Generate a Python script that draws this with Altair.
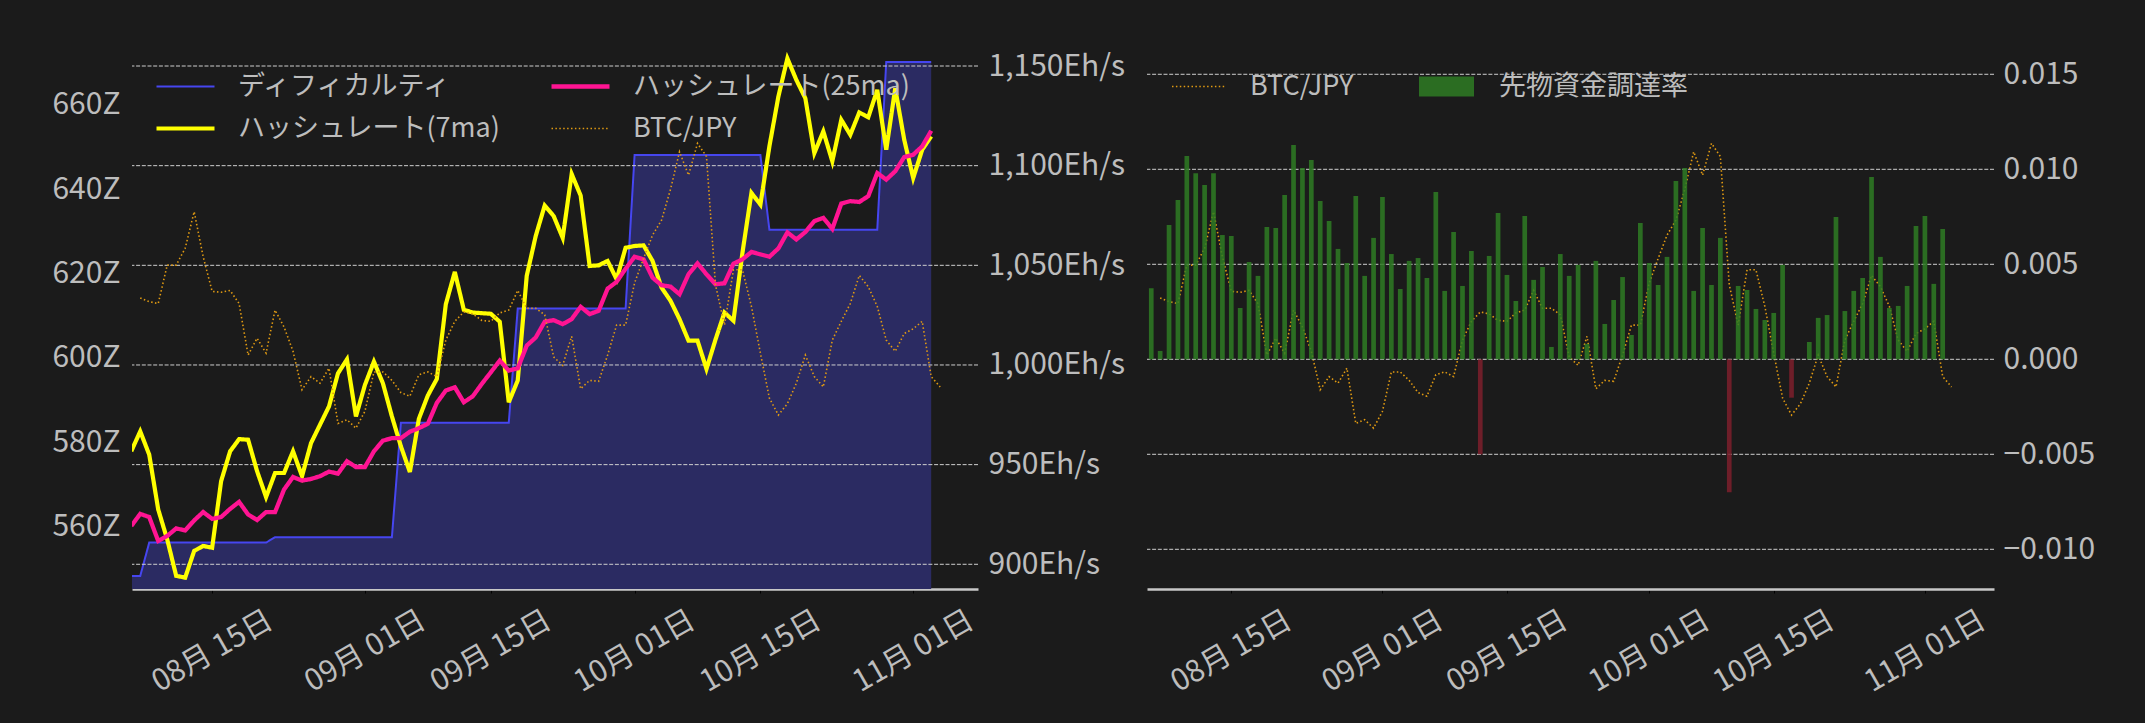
import altair as alt
import pandas as pd
import jinja2

FONT = "Noto Sans CJK JP"
BG = "#1b1b1b"
TXT = "#bdbdbd"

# ---------------- data ----------------
# daily points Aug 6 .. Nov 3 (difficulty, hashrate, funding rate)
DATES = [d.strftime("%Y-%m-%dT00:00:00") for d in pd.date_range("2025-08-06", periods=90, freq="D")]
# BTC/JPY daily points Aug 7 .. Nov 4
BTC_DATES = [d.strftime("%Y-%m-%dT00:00:00") for d in pd.date_range("2025-08-07", periods=90, freq="D")]

TICK_DATES = [(2025, 8, 15), (2025, 9, 1), (2025, 9, 15), (2025, 10, 1), (2025, 10, 15), (2025, 11, 1)]
Z_TICKS = [560, 580, 600, 620, 640, 660]
EH_TICKS = [900, 950, 1000, 1050, 1100, 1150]
FR_TICKS = [-0.010, -0.005, 0.0, 0.005, 0.010, 0.015]

DIFFICULTY_Z = [
    548.3, 548.3,
    556.2, 556.2, 556.2, 556.2, 556.2, 556.2, 556.2, 556.2, 556.2, 556.2, 556.2, 556.2, 556.2, 556.2,
    557.5, 557.5, 557.5, 557.5, 557.5, 557.5, 557.5, 557.5, 557.5, 557.5, 557.5, 557.5, 557.5, 557.5,
    584.6, 584.6, 584.6, 584.6, 584.6, 584.6, 584.6, 584.6, 584.6, 584.6, 584.6, 584.6, 584.6,
    611.7, 611.7, 611.7, 611.7, 611.7, 611.7, 611.7, 611.7, 611.7, 611.7, 611.7, 611.7, 611.7,
    648.1, 648.1, 648.1, 648.1, 648.1, 648.1, 648.1, 648.1, 648.1, 648.1, 648.1, 648.1, 648.1, 648.1, 648.1,
    630.4, 630.4, 630.4, 630.4, 630.4, 630.4, 630.4, 630.4, 630.4, 630.4, 630.4, 630.4, 630.4,
    670.2, 670.2, 670.2, 670.2, 670.2, 670.2,
]

HASH_7MA = [
    956.7, 966.7, 955.0, 927.5, 912.5, 894.2, 893.3, 906.7, 909.2, 908.3,
    941.7, 956.7, 962.8, 962.5, 946.7, 933.7, 945.8, 945.8, 956.7, 944.2,
    960.8, 970.0, 979.2, 995.8, 1002.8, 974.2, 990.0, 1001.7, 990.8, 974.2,
    959.2, 946.3, 973.0, 984.7, 993.0, 1030.5, 1046.7, 1027.7, 1026.3, 1026.0,
    1025.7, 1021.7, 981.3, 992.2, 1044.7, 1064.7, 1080.0, 1074.7, 1063.8, 1095.8,
    1085.0, 1049.7, 1050.0, 1052.2, 1043.0, 1058.8, 1059.7, 1060.0, 1052.2, 1038.8,
    1032.2, 1023.0, 1012.2, 1012.2, 998.0, 1012.7, 1026.3, 1022.2, 1056.3, 1086.3,
    1080.5, 1109.7, 1134.7, 1153.8, 1143.0, 1133.8, 1106.3, 1117.2, 1102.2, 1123.0,
    1115.5, 1126.7, 1124.3, 1138.0, 1108.0, 1138.8, 1113.0, 1093.8, 1108.0, 1114.7,
]

HASH_25MA = [
    919.2, 925.3, 923.7, 911.7, 914.2, 918.0, 917.0, 922.0, 926.2, 922.8,
    923.7, 927.8, 931.3, 925.0, 922.2, 926.2, 926.2, 937.5, 943.8, 942.0,
    942.8, 944.2, 946.5, 945.5, 951.7, 948.8, 948.8, 956.7, 962.0, 963.3,
    963.3, 966.5, 968.3, 970.5, 981.0, 987.2, 988.8, 981.3, 984.3, 990.5,
    996.3, 1002.2, 997.2, 998.3, 1009.7, 1013.8, 1021.7, 1022.5, 1020.5, 1023.0,
    1029.2, 1025.5, 1027.2, 1038.3, 1041.7, 1048.3, 1054.3, 1053.0, 1043.8, 1040.0,
    1039.3, 1035.5, 1045.5, 1051.0, 1045.5, 1040.5, 1041.0, 1050.8, 1053.0, 1056.7,
    1055.5, 1054.3, 1058.5, 1066.5, 1063.0, 1066.7, 1072.2, 1073.8, 1068.3, 1081.0,
    1082.2, 1081.8, 1084.7, 1096.3, 1093.0, 1097.2, 1104.3, 1105.5, 1109.7, 1117.5,
]

# BTC/JPY in 10k JPY (万円)
BTC_JPY = [
    1735, 1731, 1729, 1770, 1770, 1788, 1827, 1779, 1742, 1741,
    1743, 1729, 1674, 1692, 1676, 1722, 1704, 1678, 1637, 1651,
    1644, 1660, 1601, 1605, 1596, 1614, 1656, 1656, 1647, 1634,
    1630, 1653, 1656, 1651, 1690, 1710, 1720, 1718, 1711, 1710,
    1719, 1722, 1743, 1724, 1724, 1717, 1672, 1663, 1694, 1638,
    1647, 1646, 1674, 1706, 1706, 1751, 1777, 1802, 1818, 1851,
    1891, 1866, 1900, 1886, 1749, 1706, 1765, 1765, 1726, 1676,
    1628, 1610, 1622, 1644, 1674, 1651, 1640, 1690, 1710, 1729,
    1759, 1747, 1726, 1690, 1678, 1697, 1702, 1710, 1651, 1640,
]

FUNDING = [
    0.00374, 0.00044, 0.00707, 0.00839, 0.01070, 0.00979, 0.00918, 0.00979, 0.00654, 0.00649,
    0.00270, 0.00512, 0.00439, 0.00696, 0.00691, 0.00865, 0.01128, 0.01007, 0.01049, 0.00833,
    0.00728, 0.00581, 0.00507, 0.00860, 0.00439, 0.00639, 0.00854, 0.00554, 0.00370, 0.00518,
    0.00533, 0.00428, 0.00881, 0.00360, 0.00670, 0.00386, 0.00570, -0.00500, 0.00544, 0.00770,
    0.00444, 0.00307, 0.00754, 0.00418, 0.00486, 0.00065, 0.00554, 0.00439, 0.00497, 0.00081,
    0.00518, 0.00186, 0.00312, 0.00433, 0.00128, 0.00718, 0.00507, 0.00391, 0.00539, 0.00939,
    0.01007, 0.00360, 0.00691, 0.00391, 0.00639, -0.00700, 0.00386, 0.00365, 0.00265, 0.00207,
    0.00244, 0.00497, -0.00202, 0.00000, 0.00091, 0.00218, 0.00233, 0.00749, 0.00254, 0.00360,
    0.00428, 0.00960, 0.00539, 0.00270, 0.00281, 0.00386, 0.00702, 0.00754, 0.00397, 0.00686,
]

SER_DIFF = "ディフィカルティ"
SER_H7 = "ハッシュレート(7ma)"
SER_H25 = "ハッシュレート(25ma)"
SER_BTC = "BTC/JPY"
SER_FR = "先物資金調達率"

# legend order (column-major, 2 columns)
SER_L = [SER_DIFF, SER_H7, SER_H25, SER_BTC]
COL_L = ["#4646f0", "#ffff00", "#ff1493", "#e09a12"]
DASH_L = [[1, 0], [1, 0], [1, 0], [1.5, 2.4]]
WID_L = [2, 4.2, 4.3, 1.6]

GREEN = "#2e7b23"
RED = "#7d1f2b"
AREA = "#2b2b62"
GRID = "#cfcfcf"

# ---------------- frames ----------------
diff_df = pd.DataFrame({"date": DATES, "v": DIFFICULTY_Z, "series": SER_DIFF})
h7_df = pd.DataFrame({"date": DATES, "v": HASH_7MA, "series": SER_H7})
h25_df = pd.DataFrame({"date": DATES, "v": HASH_25MA, "series": SER_H25})
btc_df = pd.DataFrame({"date": BTC_DATES, "v": BTC_JPY, "series": SER_BTC})
fr_df = pd.DataFrame({"date": DATES, "rate": FUNDING, "series": SER_FR})
grid_l_df = pd.DataFrame({"v": EH_TICKS})
grid_r_df = pd.DataFrame({"v": FR_TICKS})

# ---------------- scales / axes ----------------
X_DOMAIN = [alt.DateTime(year=2025, month=8, date=6, hours=2),
            alt.DateTime(year=2025, month=11, date=8, hours=5)]
X_VALUES = [alt.DateTime(year=y, month=m, date=d) for (y, m, d) in TICK_DATES]

Z_SCALE = alt.Scale(domain=[545.2, 675.4], zero=False, nice=False)
EH_SCALE = alt.Scale(domain=[887.6, 1163.05], zero=False, nice=False)
BTC_SCALE = alt.Scale(domain=[1424.3, 2010.3], zero=False, nice=False)
FR_SCALE = alt.Scale(domain=[-0.012089, 0.016805], zero=False, nice=False)

x_axis = alt.Axis(values=X_VALUES, format="%m月 %d日", labelAngle=330, labelAlign="center",
                  labelBaseline="middle", labelPadding=58, tickSize=4, tickColor="#000000",
                  domainColor="#c8c8c8", domainWidth=2.5, grid=False, title=None,
                  labelOverlap=False, labelFlush=False)


def xenc():
    return alt.X("date:T", scale=alt.Scale(domain=X_DOMAIN), axis=x_axis, title=None)


z_axis = alt.Axis(orient="left", values=Z_TICKS, labelExpr="datum.value + 'Z'", grid=False,
                  domain=False, ticks=False, labelPadding=12, title=None)
eh_axis = alt.Axis(orient="right", values=EH_TICKS, labelExpr="format(datum.value, ',') + 'Eh/s'",
                   grid=False, domain=False, ticks=False, labelPadding=10, title=None)
fr_axis = alt.Axis(orient="right", values=FR_TICKS, format=".3f", grid=False, domain=False,
                   ticks=False, labelPadding=9, title=None)

legend_l = alt.Legend(title=None, orient="none", legendX=22, legendY=33, columns=2,
                      symbolType="stroke", symbolSize=3364, labelOffset=21, clipHeight=27,
                      rowPadding=14, columnPadding=48)
color_l = alt.Color("series:N", scale=alt.Scale(domain=SER_L, range=COL_L), legend=legend_l)
dash_l = alt.StrokeDash("series:N", scale=alt.Scale(domain=SER_L, range=DASH_L), legend=legend_l)
width_l = alt.StrokeWidth("series:N", scale=alt.Scale(type="ordinal", domain=SER_L, range=WID_L),
                          legend=legend_l)

# ---------------- left panel ----------------
area = alt.Chart(diff_df).mark_area(color=AREA, clip=True).encode(
    x=xenc(), y=alt.Y("v:Q", scale=Z_SCALE, axis=None))
diff_line = alt.Chart(diff_df).mark_line(clip=True).encode(
    x=xenc(), y=alt.Y("v:Q", scale=Z_SCALE, axis=z_axis),
    color=color_l, strokeDash=dash_l, strokeWidth=width_l)
grid_l = alt.Chart(grid_l_df).mark_rule(color=GRID, strokeWidth=1, strokeDash=[4, 1.7]).encode(
    y=alt.Y("v:Q", scale=EH_SCALE, axis=None))
h7_line = alt.Chart(h7_df).mark_line(clip=True).encode(
    x=xenc(), y=alt.Y("v:Q", scale=EH_SCALE, axis=eh_axis),
    color=color_l, strokeDash=dash_l, strokeWidth=width_l)
h25_line = alt.Chart(h25_df).mark_line(clip=True).encode(
    x=xenc(), y=alt.Y("v:Q", scale=EH_SCALE, axis=None),
    color=color_l, strokeDash=dash_l, strokeWidth=width_l)
btc_line_l = alt.Chart(btc_df).mark_line(clip=True).encode(
    x=xenc(), y=alt.Y("v:Q", scale=BTC_SCALE, axis=None),
    color=color_l, strokeDash=dash_l, strokeWidth=width_l)

left = alt.layer(area, diff_line, grid_l, h7_line, h25_line, btc_line_l).resolve_scale(
    y="independent").properties(width=846, height=549)

# ---------------- right panel ----------------
legend_rb = alt.Legend(title=None, orient="none", legendX=24, legendY=33, symbolType="stroke",
                       symbolSize=2916, labelOffset=23, clipHeight=27)
legend_rf = alt.Legend(title=None, orient="none", legendX=272, legendY=33,
                       symbolType="M-1,-0.36H1V0.36H-1Z", symbolSize=3025, symbolStrokeWidth=0,
                       labelOffset=25, clipHeight=27)

btc_line_r = alt.Chart(btc_df).mark_line(strokeWidth=1.6, clip=True).encode(
    x=xenc(), y=alt.Y("v:Q", scale=BTC_SCALE, axis=None),
    color=alt.Color("series:N", scale=alt.Scale(domain=[SER_BTC], range=[COL_L[3]]), legend=legend_rb),
    strokeDash=alt.StrokeDash("series:N", scale=alt.Scale(domain=[SER_BTC], range=[DASH_L[3]]),
                              legend=legend_rb))
grid_r = alt.Chart(grid_r_df).mark_rule(color=GRID, strokeWidth=1, strokeDash=[4, 1.7]).encode(
    y=alt.Y("v:Q", scale=FR_SCALE, axis=None))
bars = alt.Chart(fr_df).mark_bar(size=4.7, opacity=0.85, clip=True).encode(
    x=xenc(), y=alt.Y("rate:Q", scale=FR_SCALE, axis=fr_axis),
    fill=alt.condition("datum.rate < 0", alt.value(RED),
                       alt.Fill("series:N", scale=alt.Scale(domain=[SER_FR], range=[GREEN]),
                                legend=legend_rf)))

right = alt.layer(btc_line_r, grid_r, bars).resolve_scale(y="independent").properties(
    width=847, height=549)

chart = alt.hconcat(left, right, spacing=169, bounds="flush").resolve_scale(
    color="independent", strokeDash="independent", strokeWidth="independent", fill="independent"
).resolve_legend(
    color="independent", strokeDash="independent", strokeWidth="independent", fill="independent"
).properties(
    padding={"left": 43, "top": 32, "right": 8, "bottom": 8}, background=BG
).configure(font=FONT).configure_view(stroke=None).configure_axis(
    labelFont=FONT, labelFontSize=30, labelColor=TXT
).configure_legend(
    labelFont=FONT, labelFontSize=27, labelColor=TXT, labelLimit=600, padding=0
)

PAGE = jinja2.Template("""<!DOCTYPE html>
<html>
<head>
<meta charset="utf-8">
<style>
  html, body { background: #1b1b1b; }
  #{{ output_div }}.vega-embed { width: 100%; display: flex; }
</style>
<script type="text/javascript" src="{{ base_url }}/vega@{{ vega_version }}"></script>
<script type="text/javascript" src="{{ base_url }}/vega-lite@{{ vegalite_version }}"></script>
<script type="text/javascript" src="{{ base_url }}/vega-embed@{{ vegaembed_version }}"></script>
</head>
<body>
<div id="{{ output_div }}"></div>
<script type="text/javascript">
  var spec = {{ spec }};
  var embedOpt = {{ embed_options }};
  vegaEmbed("#{{ output_div }}", spec, embedOpt).catch(console.error);
</script>
</body>
</html>""")

chart.save("out.html", embed_options={"renderer": "svg", "actions": False}, template=PAGE)
